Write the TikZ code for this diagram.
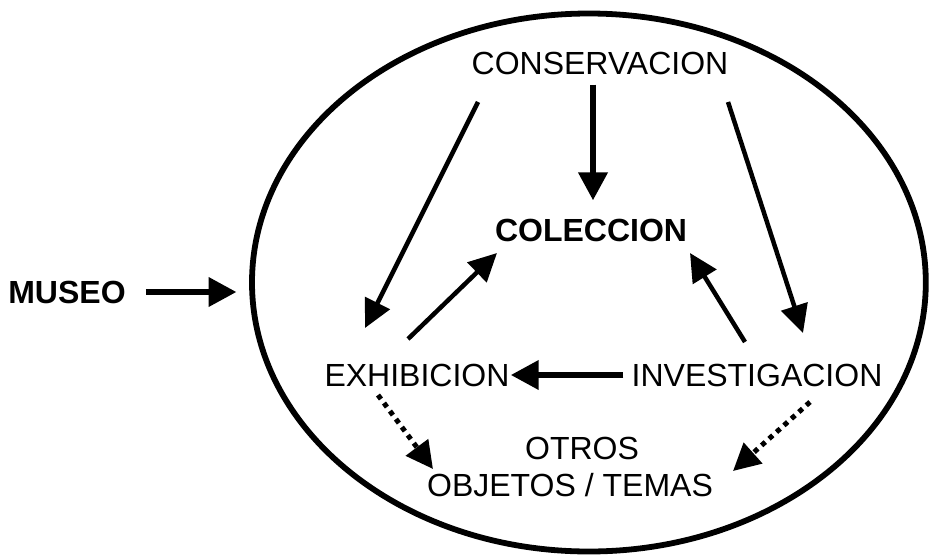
\documentclass[tikz,border=0pt]{standalone}
\usepackage{fontspec}
\setmainfont{Liberation Sans}
\usepackage{tikz}
\usetikzlibrary{arrows.meta, shapes.geometric, calc}
\tikzstyle{tx}=[%
      rectangle, draw=none, inner sep=0pt, align=center,
      font=\fontsize{32}{37}\selectfont
]
\tikzstyle{fl}=[%
      draw=black, line width=4.5pt, -{Triangle[length=28pt,width=27pt]}
]
\tikzstyle{fg}=[%
      draw=black, line width=6.6pt, -{Triangle[length=28pt,width=28pt]}
]
\tikzstyle{fp}=[%
      draw=black, line width=5pt, dash pattern=on 5pt off 5pt,
      -{Triangle[length=27pt,width=27pt]}
]

\begin{document}
\begin{tikzpicture}[x=1pt, y=-1pt]
    \useasboundingbox (0,0) rectangle (929,557);

    \node[ellipse, draw, line width=5.8pt, inner sep=0pt,
          minimum width=673.8pt, minimum height=538pt] (borde) at (588.9,282.5) {};

    \node[tx] (museo)   at (67,292)    {\bfseries MUSEO};
    \node[tx] (conserv) at (600,63)    {CONSERVACION};
    \node[tx] (colec)   at (591,230)   {\bfseries COLECCION};
    \node[tx] (exhib)   at (417,375)   {EXHIBICION};
    \node[tx] (invest)  at (757,375)   {INVESTIGACION};
    \node[tx] (otros)   at (570,466.5) {\hspace*{24pt}OTROS\\OBJETOS / TEMAS};

    % flechas gruesas
    \draw[fg, shorten <=20pt, shorten >=12.5pt] (museo.east) -- (museo.east -| borde.west);
    \draw[fg, shorten <=10pt, shorten >=18pt]
          ([xshift=-7pt]conserv.south) -- ([xshift=-7pt]conserv.south |- colec.north);
    \draw[fg, shorten <=8pt, shorten >=1pt] (invest.west) -- (exhib.east);

    % flechas finas
    \draw[fl] ([shift={(-122,39)}]conserv.center) -- ([shift={(-52,-47)}]exhib.center);
    \draw[fl] ([shift={(128,39)}]conserv.center)  -- ([shift={(46,-42)}]invest.center);
    \draw[fl] ([shift={(-9,-36)}]exhib.center)    -- ([shift={(-94,23)}]colec.center);
    \draw[fl] ([shift={(-12,-33)}]invest.center)  -- ([shift={(99,23)}]colec.center);

    % punteadas
    \draw[fp] ([shift={(-39,20)}]exhib.center) -- ([shift={(-137,2.5)}]otros.center);
    \draw[fp] ([shift={(53,27)}]invest.center) -- ([shift={(163,4.5)}]otros.center);
\end{tikzpicture}
\end{document}
